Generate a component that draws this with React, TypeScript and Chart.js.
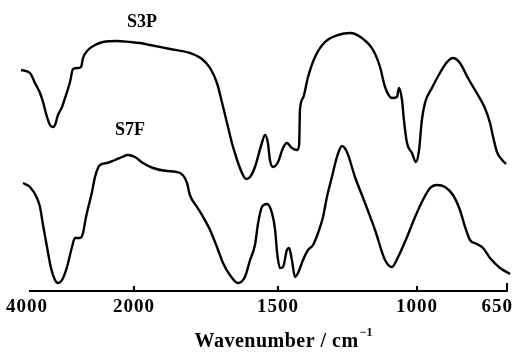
import React, { useEffect, useRef } from 'react';
import { Chart, registerables } from 'chart.js';

Chart.register(...registerables);

// ---- axis definition (broken wavenumber axis, cm^-1) ----
const TICK_WAVENUMBERS = [4000, 2000, 1500, 1000, 650];
const TICK_LABELS = ['4000', '2000', '1500', '1000', '650'];
// relative axis positions of the tick wavenumbers (scale compressed above 2000)
const TICK_POSITIONS = [0, 105, 249, 388, 478];

const AXIS_TITLE = 'Wavenumber / cm';
const AXIS_TITLE_SUP = '\u22121';

const SERIES_NAMES = ['S3P', 'S7F'];

// ---- spectra: wavenumber (cm^-1) and transmittance (a.u., offset stacked) ----
const S3P_WN = [4152, 3981, 3886, 3790, 3733, 3657, 3600, 3543, 3505, 3448, 3371, 3314, 3219, 3162, 3067, 3009, 2971, 2876, 2743, 2590, 2324, 2076, 1979, 1944, 1875, 1806, 1764, 1736, 1712, 1694, 1677, 1660, 1642, 1625, 1611, 1597, 1580, 1556, 1545, 1535, 1528, 1517, 1500, 1482, 1468, 1450, 1432, 1424, 1421, 1410, 1392, 1367, 1331, 1284, 1241, 1198, 1158, 1133, 1115, 1090, 1072, 1065, 1054, 1047, 1036, 1018, 1004, 992, 981, 969, 942, 911, 883, 860, 833, 802, 763, 736, 716, 704, 689, 669, 654];
const S3P_T = [221, 218, 208, 198, 189, 174, 166, 164, 166, 176, 184, 193, 209, 222, 223, 224, 233, 241, 246, 249, 250, 249, 248, 246, 242, 238, 232, 223, 208, 188, 168, 148, 131, 118, 112, 114, 124, 148, 156, 148, 131, 124, 129, 143, 148, 143, 141, 146, 181, 193, 214, 234, 249, 256, 258, 253, 241, 224, 204, 193, 194, 203, 191, 171, 148, 138, 129, 141, 171, 188, 203, 218, 229, 233, 228, 213, 196, 183, 168, 154, 139, 131, 127];

const S7F_WN = [4114, 3981, 3848, 3790, 3733, 3657, 3581, 3505, 3448, 3371, 3276, 3181, 3124, 3028, 2971, 2914, 2800, 2743, 2648, 2514, 2362, 2229, 2114, 1997, 1969, 1934, 1885, 1840, 1816, 1806, 1781, 1760, 1736, 1712, 1691, 1667, 1639, 1615, 1597, 1580, 1569, 1556, 1538, 1521, 1510, 1503, 1493, 1482, 1468, 1460, 1450, 1439, 1428, 1410, 1392, 1374, 1356, 1338, 1324, 1306, 1288, 1270, 1252, 1223, 1187, 1151, 1115, 1090, 1068, 1036, 1007, 977, 949, 922, 891, 860, 833, 813, 794, 767, 743, 716, 677, 638];
const S7F_T = [108, 104, 93, 84, 66, 44, 23, 11, 8, 11, 24, 44, 53, 53, 58, 74, 99, 114, 126, 128, 131, 134, 136, 134, 128, 123, 120, 118, 108, 96, 84, 74, 61, 44, 28, 16, 8, 14, 31, 46, 68, 84, 87, 78, 61, 38, 23, 24, 41, 43, 31, 14, 18, 31, 41, 46, 58, 74, 94, 114, 134, 145, 139, 114, 88, 61, 31, 24, 34, 54, 74, 91, 103, 106, 104, 96, 81, 64, 51, 47, 43, 33, 23, 17];

const FONT = "'Liberation Serif', 'Times New Roman', Times, serif";

function toPos(wn: number): number {
  const w = TICK_WAVENUMBERS;
  const p = TICK_POSITIONS;
  let i = 0;
  if (wn >= w[0]) i = 0;
  else if (wn <= w[w.length - 1]) i = w.length - 2;
  else {
    for (i = 0; i < w.length - 1; i++) if (wn <= w[i] && wn >= w[i + 1]) break;
  }
  return p[i] + ((wn - w[i]) * (p[i + 1] - p[i])) / (w[i + 1] - w[i]);
}

function toPoints(wn: number[], t: number[]) {
  return wn.map((v, i) => ({ x: toPos(v), y: t[i] }));
}

// anchors of the series names, in data coordinates
const NAME_ANCHORS = [
  { wn: 1972, t: 264 },
  { wn: 2076, t: 156 },
];

const decorPlugin = {
  id: 'ftirDecor',
  afterDraw(chart: any) {
    const { ctx, scales, chartArea } = chart;
    const xs = scales.x;
    const ys = scales.y;
    const y0 = ys.getPixelForValue(0);
    ctx.save();
    ctx.strokeStyle = '#000';
    ctx.fillStyle = '#000';
    ctx.lineWidth = 2;
    ctx.lineCap = 'butt';
    const n = TICK_WAVENUMBERS.length;
    const xStart = xs.getPixelForValue(toPos(TICK_WAVENUMBERS[0]));
    const xEnd = xs.getPixelForValue(toPos(TICK_WAVENUMBERS[n - 1]));
    ctx.beginPath();
    ctx.moveTo(xStart, y0);
    ctx.lineTo(xEnd + 1, y0);
    ctx.stroke();

    ctx.font = `bold 19px ${FONT}`;
    (ctx as any).letterSpacing = '1px';
    ctx.textBaseline = 'alphabetic';
    TICK_WAVENUMBERS.forEach((wn, i) => {
      const px = xs.getPixelForValue(toPos(wn));
      const last = i === n - 1;
      if (i > 0) {
        ctx.beginPath();
        ctx.moveTo(px, y0);
        ctx.lineTo(px, y0 - (last ? 8 : 5));
        ctx.stroke();
      }
      ctx.textAlign = last ? 'right' : 'center';
      const lx = last ? px + 6 : i === 0 ? px - 2 : px;
      ctx.fillText(TICK_LABELS[i], lx, y0 + 21);
    });

    // axis title
    const mainFont = `bold 20px ${FONT}`;
    const supFont = `bold 12px ${FONT}`;
    ctx.font = mainFont;
    (ctx as any).letterSpacing = '0.5px';
    const wMain = ctx.measureText(AXIS_TITLE).width;
    ctx.font = supFont;
    (ctx as any).letterSpacing = '0px';
    const wSup = ctx.measureText(AXIS_TITLE_SUP).width;
    const cx = (chartArea.left + chartArea.right) / 2 + 17;
    const startX = cx - (wMain + wSup) / 2;
    ctx.textAlign = 'left';
    ctx.font = mainFont;
    (ctx as any).letterSpacing = '0.5px';
    ctx.fillText(AXIS_TITLE, startX, y0 + 56);
    ctx.font = supFont;
    (ctx as any).letterSpacing = '0px';
    ctx.fillText(AXIS_TITLE_SUP, startX + wMain + 1, y0 + 45);

    // series names
    ctx.font = `bold 18px ${FONT}`;
    (ctx as any).letterSpacing = '0px';
    ctx.textAlign = 'center';
    SERIES_NAMES.forEach((name, i) => {
      const a = NAME_ANCHORS[i];
      ctx.fillText(name, xs.getPixelForValue(toPos(a.wn)), ys.getPixelForValue(a.t));
    });
    ctx.restore();
  },
};

export default function App() {
  const ref = useRef<HTMLCanvasElement | null>(null);

  useEffect(() => {
    document.body.style.margin = '0';
    const canvas = ref.current;
    if (!canvas) return;
    const chart = new Chart(canvas, {
      type: 'line',
      data: {
        datasets: [
          {
            label: SERIES_NAMES[0],
            data: toPoints(S3P_WN, S3P_T),
            borderColor: '#000',
            borderWidth: 2.4,
            pointRadius: 0,
            cubicInterpolationMode: 'monotone',
            fill: false,
          },
          {
            label: SERIES_NAMES[1],
            data: toPoints(S7F_WN, S7F_T),
            borderColor: '#000',
            borderWidth: 2.4,
            pointRadius: 0,
            cubicInterpolationMode: 'monotone',
            fill: false,
          },
        ],
      },
      options: {
        responsive: false,
        animation: false,
        devicePixelRatio: 1,
        layout: { padding: { left: 19, right: 9, top: 11, bottom: 61 } },
        plugins: { legend: { display: false }, tooltip: { enabled: false } },
        scales: {
          x: { type: 'linear', min: -10, max: 484, display: false },
          y: { type: 'linear', min: 0, max: 280, display: false },
        },
      },
      plugins: [decorPlugin],
    });
    return () => chart.destroy();
  }, []);

  return <canvas ref={ref} width={522} height={352} style={{ display: 'block' }} />;
}
